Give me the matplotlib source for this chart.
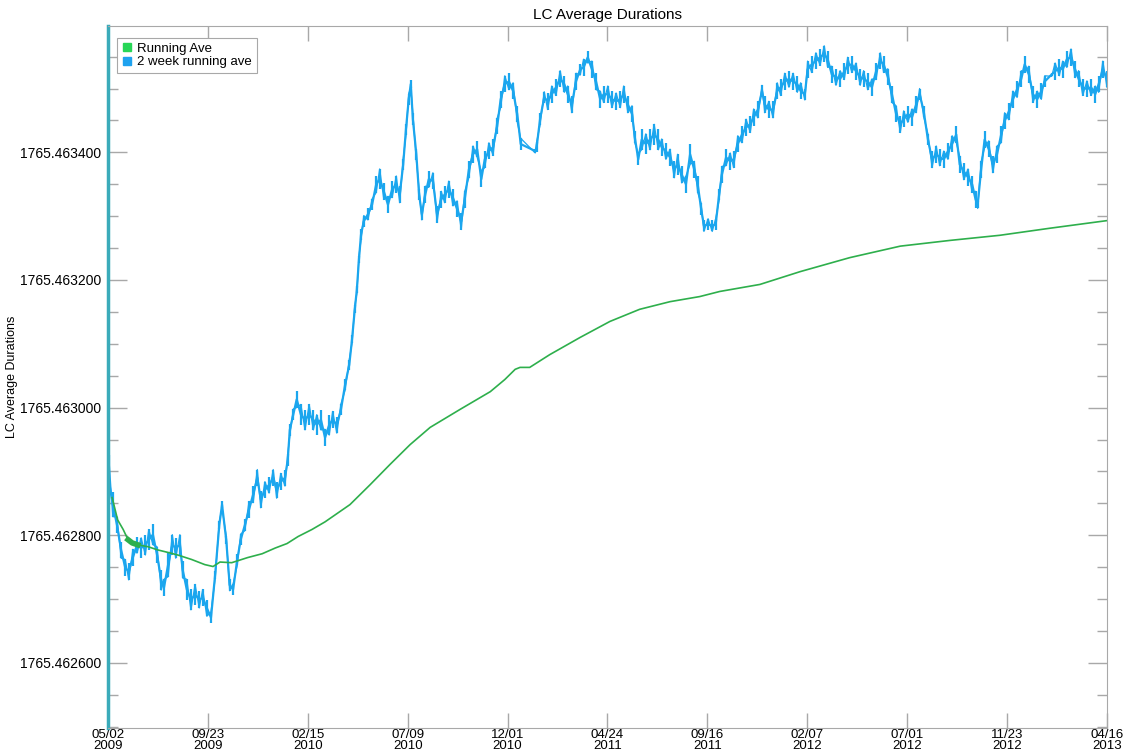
import numpy as np
import matplotlib
matplotlib.use("Agg")
import matplotlib.pyplot as plt
from matplotlib.lines import Line2D
from matplotlib.ticker import FixedLocator, MultipleLocator, FormatStrFormatter

plt.rcParams['font.family'] = ['Liberation Sans', 'DejaVu Sans']

# values are stored in units of 1e-6 above this base
BASE = 1765.462

# 2 week running average: sample day (since 2009-05-02), centre value, half spread
days_2wk = [
    1, 7, 13, 19, 25, 30, 36, 42, 48, 54,
    59, 65, 71, 77, 81, 87, 93, 98, 104, 108,
    114, 120, 126, 132, 137, 143, 149, 155, 161, 165,
    171, 176, 181, 187, 192, 198, 204, 210, 216, 221,
    227, 233, 239, 244, 250, 256, 260, 263, 268, 273,
    279, 285, 291, 297, 302, 308, 314, 320, 325, 331,
    337, 343, 349, 353, 357, 360, 363, 366, 370, 376,
    382, 388, 393, 399, 405, 411, 417, 422, 427, 431,
    435, 438, 441, 446, 450, 454, 459, 464, 470, 476,
    482, 487, 493, 499, 505, 511, 516, 522, 528, 534,
    540, 545, 551, 557, 563, 568, 574, 580, 586, 592,
    597, 618, 620, 625, 631, 636, 642, 648, 654, 660,
    665, 671, 677, 683, 688, 694, 700, 706, 712, 717,
    723, 729, 735, 741, 746, 752, 758, 762, 767, 772,
    778, 784, 790, 796, 801, 807, 813, 819, 824, 830,
    836, 842, 848, 853, 858, 862, 868, 874, 879, 884,
    888, 894, 900, 905, 911, 917, 923, 929, 934, 940,
    946, 950, 956, 962, 968, 973, 979, 985, 991, 997,
    1002, 1008, 1012, 1018, 1024, 1030, 1036, 1041, 1047, 1053,
    1059, 1065, 1070, 1076, 1082, 1088, 1093, 1099, 1105, 1111,
    1117, 1122, 1128, 1134, 1140, 1146, 1151, 1157, 1163, 1169,
    1174, 1180, 1186, 1192, 1198, 1203, 1209, 1215, 1221, 1227,
    1232, 1238, 1244, 1250, 1255, 1258, 1263, 1268, 1274, 1280,
    1286, 1292, 1297, 1303, 1309, 1315, 1321, 1326, 1332, 1338,
    1344, 1350, 1355, 1365, 1370, 1376, 1381, 1387, 1393, 1399,
    1404, 1410, 1416, 1422, 1428, 1433, 1439, 1445,
]
ave_2wk = [
    887, 848, 816, 777, 749, 743, 765, 785, 780, 785,
    793, 801, 769, 730, 718, 754, 785, 780, 785, 746,
    715, 699, 707, 699, 702, 686, 671, 738, 816, 848,
    793, 722, 715, 762, 793, 816, 840, 864, 890, 856,
    871, 879, 890, 871, 884, 890, 918, 965, 989, 1013,
    989, 981, 989, 981, 973, 981, 953, 973, 981, 973,
    997, 1036, 1067, 1107, 1154, 1185, 1232, 1271, 1292, 1303,
    1318, 1350, 1358, 1339, 1318, 1342, 1350, 1334, 1381, 1436,
    1483, 1507, 1452, 1397, 1334, 1303, 1334, 1358, 1355, 1303,
    1326, 1334, 1342, 1329, 1311, 1292, 1326, 1373, 1397, 1405,
    1358, 1389, 1402, 1408, 1441, 1483, 1507, 1511, 1496, 1460,
    1413, 1402, 1408, 1452, 1486, 1480, 1491, 1502, 1515, 1507,
    1491, 1475, 1511, 1530, 1533, 1549, 1530, 1511, 1483, 1491,
    1491, 1483, 1480, 1483, 1491, 1475, 1460, 1424, 1389, 1420,
    1413, 1420, 1428, 1420, 1408, 1402, 1392, 1373, 1381, 1365,
    1350, 1397, 1373, 1350, 1311, 1285, 1287, 1285, 1287, 1334,
    1365, 1392, 1386, 1389, 1413, 1428, 1439, 1444, 1455, 1467,
    1496, 1475, 1467, 1467, 1496, 1502, 1511, 1515, 1511, 1507,
    1496, 1491, 1530, 1538, 1543, 1549, 1554, 1546, 1522, 1518,
    1515, 1527, 1536, 1538, 1527, 1518, 1515, 1511, 1502, 1527,
    1543, 1538, 1518, 1491, 1460, 1444, 1452, 1460, 1455, 1475,
    1491, 1464, 1420, 1389, 1397, 1392, 1389, 1402, 1413, 1428,
    1381, 1370, 1361, 1350, 1326, 1318, 1373, 1420, 1405, 1381,
    1397, 1428, 1449, 1464, 1483, 1499, 1515, 1538, 1522, 1491,
    1483, 1496, 1511, 1522, 1527, 1533, 1530, 1546, 1549, 1530,
    1515, 1502, 1499, 1502, 1491, 1507, 1530, 1515,
]
spread_2wk = [
    39, 19, 13, 13, 13, 13, 13, 13, 16, 16,
    16, 16, 13, 16, 13, 19, 16, 16, 16, 13,
    16, 16, 16, 13, 13, 13, 9, 6, 6, 6,
    6, 9, 9, 9, 9, 9, 13, 13, 13, 13,
    13, 13, 13, 13, 13, 13, 9, 9, 9, 13,
    16, 16, 16, 16, 16, 16, 13, 16, 13, 13,
    9, 9, 8, 6, 6, 6, 6, 9, 9, 9,
    9, 13, 16, 13, 13, 13, 13, 13, 9, 9,
    9, 6, 9, 9, 9, 9, 13, 13, 13, 13,
    13, 13, 13, 13, 13, 13, 13, 13, 13, 13,
    13, 13, 13, 13, 13, 13, 13, 13, 13, 13,
    9, 3, 8, 9, 9, 13, 13, 13, 13, 13,
    13, 13, 13, 9, 13, 9, 13, 13, 13, 13,
    13, 13, 13, 13, 13, 13, 13, 9, 9, 16,
    16, 16, 16, 16, 13, 13, 13, 13, 16, 13,
    13, 16, 13, 13, 9, 9, 9, 9, 9, 9,
    13, 13, 13, 13, 13, 13, 13, 13, 13, 13,
    9, 13, 13, 13, 13, 13, 13, 13, 13, 13,
    13, 9, 13, 13, 13, 13, 13, 13, 13, 13,
    13, 13, 13, 13, 13, 13, 13, 13, 13, 13,
    13, 13, 13, 13, 13, 13, 13, 13, 13, 13,
    9, 9, 9, 13, 13, 13, 13, 13, 13, 13,
    13, 13, 13, 13, 13, 6, 13, 13, 13, 13,
    13, 13, 13, 13, 13, 13, 13, 13, 13, 13,
    13, 13, 9, 3, 13, 13, 13, 13, 13, 13,
    13, 13, 13, 13, 13, 13, 13, 13,
]

# cumulative running average
days_ave = [6, 14, 22, 29, 35, 43, 58, 72, 87, 101, 121, 140, 152, 162, 179,
            202, 223, 242, 259, 275, 295, 314, 350, 379, 408, 437, 466, 509,
            553, 574, 589, 596, 610, 639, 683, 726, 769, 813, 856, 885, 943,
            1001, 1073, 1146, 1218, 1290, 1362, 1445]
run_ave = [859, 824, 809, 793, 788, 785, 782, 777, 773, 769, 762, 754, 751, 758,
           757, 765, 771, 780, 787, 798, 809, 821, 848, 879, 911, 942, 969, 997,
           1025, 1044, 1060, 1063, 1063, 1083, 1110, 1135, 1154, 1166, 1174,
           1182, 1193, 1213, 1235, 1253, 1262, 1270, 1281, 1293]

tick_days = np.linspace(0, 1445, 11)
tick_labels = ['05/02\n2009', '09/23\n2009', '02/15\n2010', '07/09\n2010',
               '12/01\n2010', '04/24\n2011', '09/16\n2011', '02/07\n2012',
               '07/01\n2012', '11/23\n2012', '04/16\n2013']
y_ticks = [1765.4626, 1765.4628, 1765.4630, 1765.4632, 1765.4634]

blue = '#1ba6ee'
green = '#2eaf4c'

d2 = np.array(days_2wk, dtype=float)
c2 = BASE + np.array(ave_2wk) * 1e-6
s2 = np.array(spread_2wk) * 1e-6
# the two-week series is very noisy: walk between the top and bottom of its spread
sign = np.where(np.arange(len(d2)) % 2 == 0, 1.0, -1.0)
y2 = c2 + sign * s2

fig = plt.figure(figsize=(11.26, 7.55), dpi=100)
ax = fig.add_axes([0.0959, 0.0358, 0.8872, 0.9298])

ax.vlines(d2, c2 - s2, c2 + s2, color=blue, lw=1.6)
ax.plot(d2, y2, color=blue, lw=0.9)
ax.plot(d2, c2, color=blue, lw=1.6)
ax.plot(days_ave, BASE + np.array(run_ave) * 1e-6, color=green, lw=1.2)
ax.plot(days_ave[3:6], BASE + np.array(run_ave[3:6]) * 1e-6, color=green, lw=4)

ax.set_xlim(0, 1445)
ax.set_ylim(1765.462498, 1765.463598)

ax.set_xticks(tick_days)
ax.set_xticklabels(tick_labels, fontsize=9.5, linespacing=0.85)
ax.yaxis.set_major_locator(FixedLocator(y_ticks))
ax.yaxis.set_major_formatter(FormatStrFormatter('%.6f'))
ax.yaxis.set_minor_locator(MultipleLocator(0.00005))

ax.tick_params(axis='both', which='both', direction='in', color='#a8a8a8',
               top=True, right=True, width=1)
ax.tick_params(axis='x', which='major', length=11, pad=1)
ax.tick_params(axis='y', which='major', length=14, pad=5, labelsize=10)
ax.tick_params(axis='y', which='minor', length=7)

for side in ['top', 'right', 'bottom']:
    ax.spines[side].set_color('#a8a8a8')
ax.spines['left'].set_color('#3aabba')
ax.spines['left'].set_linewidth(2.5)

ax.set_title('LC Average Durations', fontsize=11, pad=5)
ax.set_ylabel('LC Average Durations', fontsize=9, labelpad=1)

handles = [Line2D([], [], marker='s', ls='none', color='#27d656', markersize=6),
           Line2D([], [], marker='s', ls='none', color='#1ea2ef', markersize=6)]
leg = ax.legend(handles, ['Running Ave', '2 week running ave'], loc='upper left',
                bbox_to_anchor=(0.009, 0.983), borderaxespad=0, fontsize=9.5,
                handlelength=0.8, handletextpad=0.4, labelspacing=0.1,
                borderpad=0.35, fancybox=False, framealpha=1)
leg.get_frame().set_edgecolor('#a8a8a8')
leg.get_frame().set_linewidth(0.8)

fig.savefig('out.png', dpi=100)
